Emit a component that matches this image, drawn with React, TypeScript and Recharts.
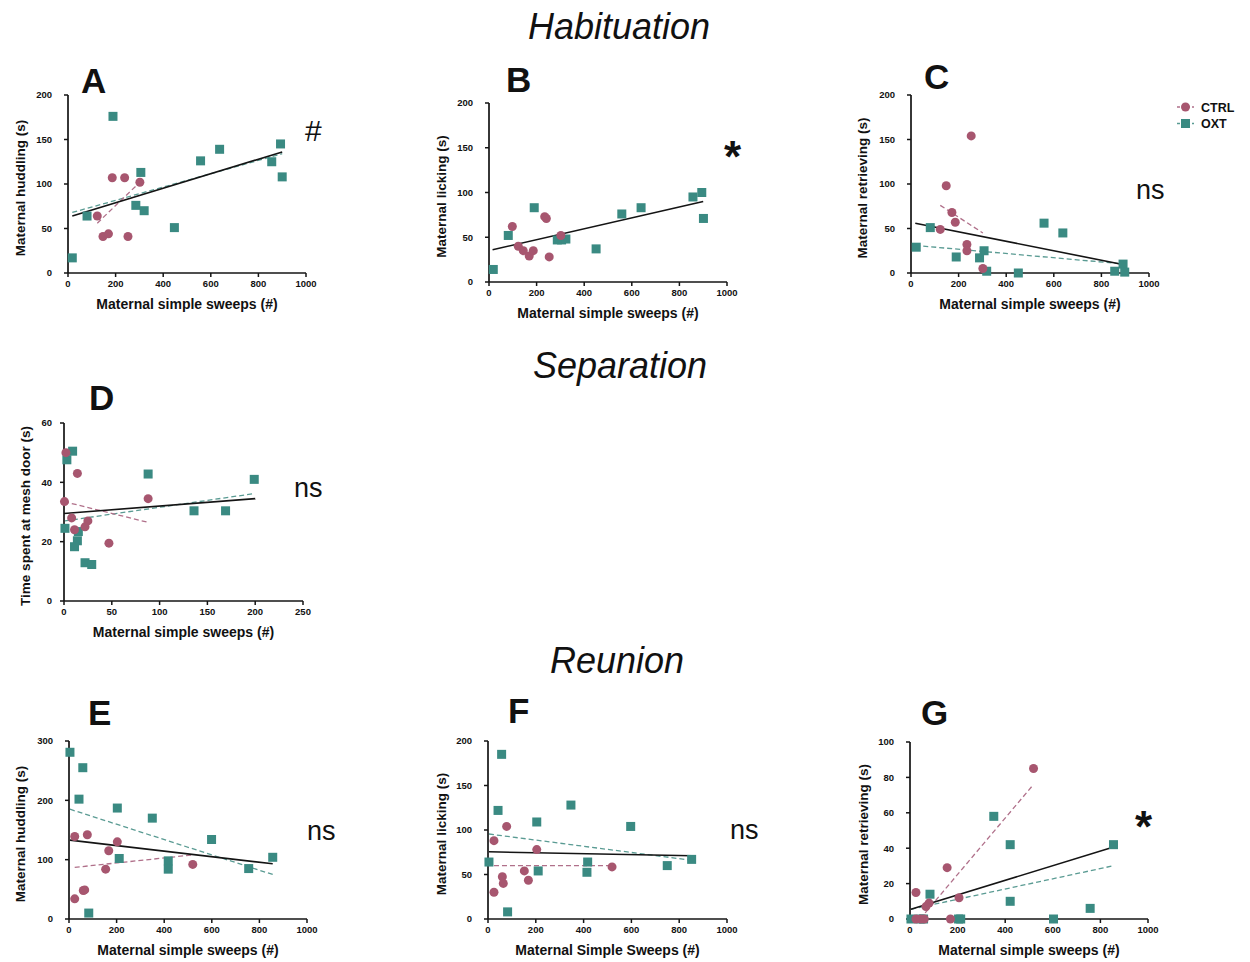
import React from 'react';
import { ScatterChart, Scatter, XAxis, YAxis, ReferenceLine } from 'recharts';

const FONT = "'Liberation Sans', Arial, Helvetica, sans-serif";
const PINK = '#a7566f';
const TEAL = '#3a8a82';
const PINK_LINE = '#b0708a';
const TEAL_LINE = '#5a9b93';
const INK = '#141414';

type Pt = { x: number; y: number };

// ---- tick labels ----
const sweepTicks = [0, 200, 400, 600, 800, 1000];
const sepSweepTicks = [0, 50, 100, 150, 200, 250];
const ticks200 = [0, 50, 100, 150, 200];
const ticks60 = [0, 20, 40, 60];
const ticks300 = [0, 100, 200, 300];
const ticks100 = [0, 20, 40, 60, 80, 100];

// ---- Habituation: A huddling ----
const aCtrl: Pt[] = [{ x: 123, y: 64 }, { x: 147, y: 41 }, { x: 170, y: 44 }, { x: 186, y: 107 }, { x: 238, y: 107 }, { x: 252, y: 41 }, { x: 302, y: 102 }];
const aOxt: Pt[] = [{ x: 18, y: 17 }, { x: 80, y: 64 }, { x: 189, y: 176 }, { x: 285, y: 76 }, { x: 306, y: 113 }, { x: 320, y: 70 }, { x: 447, y: 51 }, { x: 557, y: 126 }, { x: 637, y: 139 }, { x: 856, y: 125 }, { x: 893, y: 145 }, { x: 900, y: 108 }];
const aPooledFit: Pt[] = [{ x: 18, y: 64 }, { x: 900, y: 136 }];
const aOxtFit: Pt[] = [{ x: 18, y: 68 }, { x: 900, y: 134 }];
const aCtrlFit: Pt[] = [{ x: 123, y: 56 }, { x: 302, y: 102 }];

// ---- Habituation: B licking ----
const bCtrl: Pt[] = [{ x: 98, y: 62 }, { x: 123, y: 40 }, { x: 144, y: 35 }, { x: 169, y: 29 }, { x: 186, y: 35 }, { x: 234, y: 73 }, { x: 241, y: 71 }, { x: 253, y: 28 }, { x: 302, y: 52 }];
const bOxt: Pt[] = [{ x: 18, y: 14 }, { x: 81, y: 52 }, { x: 190, y: 83 }, { x: 287, y: 47 }, { x: 305, y: 47 }, { x: 323, y: 48 }, { x: 450, y: 37 }, { x: 558, y: 76 }, { x: 639, y: 83 }, { x: 857, y: 95 }, { x: 894, y: 100 }, { x: 901, y: 71 }];
const bPooledFit: Pt[] = [{ x: 15, y: 36 }, { x: 900, y: 90 }];

// ---- Habituation: C retrieving ----
const cCtrl: Pt[] = [{ x: 123, y: 49 }, { x: 148, y: 98 }, { x: 172, y: 68 }, { x: 186, y: 57 }, { x: 235, y: 32 }, { x: 235, y: 25 }, { x: 253, y: 154 }, { x: 302, y: 5 }];
const cOxt: Pt[] = [{ x: 22, y: 29 }, { x: 81, y: 51 }, { x: 190, y: 18 }, { x: 288, y: 17 }, { x: 307, y: 25 }, { x: 318, y: 2 }, { x: 451, y: 0 }, { x: 559, y: 56 }, { x: 638, y: 45 }, { x: 856, y: 2 }, { x: 891, y: 10 }, { x: 898, y: 1 }];
const cPooledFit: Pt[] = [{ x: 18, y: 56 }, { x: 900, y: 9 }];
const cOxtFit: Pt[] = [{ x: 18, y: 31 }, { x: 900, y: 10 }];
const cCtrlFit: Pt[] = [{ x: 123, y: 76 }, { x: 302, y: 45 }];

// ---- Separation: D mesh door ----
const dCtrl: Pt[] = [{ x: 2, y: 50 }, { x: 14, y: 43 }, { x: 0.5, y: 33.5 }, { x: 88, y: 34.5 }, { x: 8, y: 28 }, { x: 25, y: 27 }, { x: 22, y: 25 }, { x: 11, y: 24 }, { x: 47, y: 19.5 }];
const dOxt: Pt[] = [{ x: 9, y: 50.5 }, { x: 3, y: 47.6 }, { x: 88, y: 42.8 }, { x: 1, y: 24.5 }, { x: 15, y: 23.4 }, { x: 14, y: 20.3 }, { x: 11, y: 18.3 }, { x: 22, y: 12.9 }, { x: 29, y: 12.3 }, { x: 136, y: 30.4 }, { x: 169, y: 30.4 }, { x: 199, y: 41 }];
const dPooledFit: Pt[] = [{ x: 0, y: 29.5 }, { x: 200, y: 34.5 }];
const dOxtFit: Pt[] = [{ x: 1, y: 27 }, { x: 199, y: 36.2 }];
const dCtrlFit: Pt[] = [{ x: 0, y: 33.5 }, { x: 88, y: 26.5 }];

// ---- Reunion: E huddling ----
const eCtrl: Pt[] = [{ x: 24, y: 139 }, { x: 77, y: 142 }, { x: 203, y: 130 }, { x: 167, y: 115 }, { x: 154, y: 84 }, { x: 520, y: 92 }, { x: 60, y: 48 }, { x: 66, y: 49 }, { x: 24, y: 34 }];
const eOxt: Pt[] = [{ x: 4, y: 281 }, { x: 58, y: 255 }, { x: 42, y: 202 }, { x: 203, y: 187 }, { x: 350, y: 170 }, { x: 211, y: 102 }, { x: 417, y: 98 }, { x: 417, y: 84 }, { x: 599, y: 134 }, { x: 83, y: 10 }, { x: 755, y: 85 }, { x: 856, y: 104 }];
const ePooledFit: Pt[] = [{ x: 4, y: 133 }, { x: 856, y: 93 }];
const eOxtFit: Pt[] = [{ x: 4, y: 185 }, { x: 856, y: 75 }];
const eCtrlFit: Pt[] = [{ x: 24, y: 87 }, { x: 520, y: 108 }];

// ---- Reunion: F licking ----
const fCtrl: Pt[] = [{ x: 78, y: 104 }, { x: 25, y: 88 }, { x: 204, y: 78 }, { x: 152, y: 54 }, { x: 169, y: 43.5 }, { x: 519, y: 58.5 }, { x: 60, y: 47.5 }, { x: 64, y: 40 }, { x: 25, y: 30 }];
const fOxt: Pt[] = [{ x: 57, y: 185 }, { x: 42, y: 122 }, { x: 204, y: 109 }, { x: 347, y: 128 }, { x: 597, y: 104 }, { x: 4, y: 64 }, { x: 210, y: 54 }, { x: 417, y: 64 }, { x: 414, y: 52.5 }, { x: 82, y: 8 }, { x: 750, y: 60 }, { x: 852, y: 67 }];
const fPooledFit: Pt[] = [{ x: 4, y: 75.5 }, { x: 852, y: 71 }];
const fOxtFit: Pt[] = [{ x: 4, y: 95.5 }, { x: 852, y: 66 }];
const fCtrlFit: Pt[] = [{ x: 25, y: 60 }, { x: 519, y: 60 }];

// ---- Reunion: G retrieving ----
const gCtrl: Pt[] = [{ x: 25, y: 15 }, { x: 156, y: 29 }, { x: 206, y: 12 }, { x: 80, y: 9 }, { x: 67, y: 7 }, { x: 170, y: 0 }, { x: 519, y: 85 }, { x: 25, y: 0 }, { x: 45, y: 0 }, { x: 60, y: 0 }];
const gOxt: Pt[] = [{ x: 4, y: 0 }, { x: 42, y: 0 }, { x: 57, y: 0 }, { x: 84, y: 14 }, { x: 204, y: 0 }, { x: 213, y: 0 }, { x: 352, y: 58 }, { x: 421, y: 42 }, { x: 421, y: 10 }, { x: 603, y: 0 }, { x: 757, y: 6 }, { x: 855, y: 42 }];
const gPooledFit: Pt[] = [{ x: 4, y: 5.5 }, { x: 852, y: 40.5 }];
const gOxtFit: Pt[] = [{ x: 4, y: 5.5 }, { x: 852, y: 30 }];
const gCtrlFit: Pt[] = [{ x: 42, y: 0 }, { x: 519, y: 76 }];

const CircleDot = (p: any) => <circle cx={p.cx} cy={p.cy} r={4.5} fill={PINK} />;
const SquareDot = (p: any) => <rect x={p.cx - 4.5} y={p.cy - 4.5} width={9} height={9} fill={TEAL} />;

const tickStyle = { fontSize: 9.5, fontWeight: 700, fill: '#111', fontFamily: FONT };

interface PanelProps {
  x0: number; x1: number; yTop: number; yBot: number;
  xTicks: number[]; yTicks: number[];
  ctrl: Pt[]; oxt: Pt[];
  pooled: Pt[]; ctrlFit?: Pt[]; oxtFit?: Pt[];
  yTickMargin?: number;
}

function Panel({ x0, x1, yTop, yBot, xTicks, yTicks, ctrl, oxt, pooled, ctrlFit, oxtFit, yTickMargin = 12 }: PanelProps) {
  const ML = 60, MT = 10, MR = 20, XH = 40;
  const plotW = x1 - x0;
  const plotH = yBot - yTop;
  return (
    <div style={{ position: 'absolute', left: x0 - ML, top: yTop - MT }}>
      <ScatterChart width={ML + plotW + MR} height={MT + plotH + XH} margin={{ top: MT, right: MR, bottom: 0, left: 0 }}>
        <XAxis
          type="number" dataKey="x"
          domain={[xTicks[0], xTicks[xTicks.length - 1]]}
          ticks={xTicks} interval={0} height={XH}
          axisLine={{ stroke: INK, strokeWidth: 1.7 }}
          tickLine={{ stroke: INK, strokeWidth: 1.5 }}
          tickSize={4} tickMargin={3}
          tick={tickStyle}
        />
        <YAxis
          type="number" dataKey="y"
          domain={[yTicks[0], yTicks[yTicks.length - 1]]}
          ticks={yTicks} interval={0} width={ML}
          axisLine={{ stroke: INK, strokeWidth: 1.7 }}
          tickLine={{ stroke: INK, strokeWidth: 1.5 }}
          tickSize={4} tickMargin={yTickMargin}
          tick={tickStyle}
        />
        <Scatter data={oxt} shape={SquareDot} isAnimationActive={false} />
        <Scatter data={ctrl} shape={CircleDot} isAnimationActive={false} />
        {oxtFit && (
          <ReferenceLine segment={oxtFit as any} stroke={TEAL_LINE} strokeWidth={1.3} strokeDasharray="5 3" />
        )}
        {ctrlFit && (
          <ReferenceLine segment={ctrlFit as any} stroke={PINK_LINE} strokeWidth={1.3} strokeDasharray="5 3" />
        )}
        <ReferenceLine segment={pooled as any} stroke={INK} strokeWidth={1.6} />
      </ScatterChart>
    </div>
  );
}

const panels = [
  { id: 'A', x0: 68, x1: 306, yTop: 95, yBot: 273, xTicks: sweepTicks, yTicks: ticks200, ctrl: aCtrl, oxt: aOxt, pooled: aPooledFit, ctrlFit: aCtrlFit, oxtFit: aOxtFit, ylab: 'Maternal huddling (s)', xlab: 'Maternal simple sweeps (#)', yOff: 48 },
  { id: 'B', x0: 489, x1: 727, yTop: 103, yBot: 282, xTicks: sweepTicks, yTicks: ticks200, ctrl: bCtrl, oxt: bOxt, pooled: bPooledFit, ylab: 'Maternal licking (s)', xlab: 'Maternal simple sweeps (#)', yOff: 48 },
  { id: 'C', x0: 911, x1: 1149, yTop: 95, yBot: 273, xTicks: sweepTicks, yTicks: ticks200, ctrl: cCtrl, oxt: cOxt, pooled: cPooledFit, ctrlFit: cCtrlFit, oxtFit: cOxtFit, ylab: 'Maternal retrieving (s)', xlab: 'Maternal simple sweeps (#)', yOff: 49 },
  { id: 'D', x0: 64, x1: 303, yTop: 423, yBot: 601, xTicks: sepSweepTicks, yTicks: ticks60, ctrl: dCtrl, oxt: dOxt, pooled: dPooledFit, ctrlFit: dCtrlFit, oxtFit: dOxtFit, ylab: 'Time spent at mesh door (s)', xlab: 'Maternal simple sweeps (#)', yOff: 39, yTickMargin: 8 },
  { id: 'E', x0: 69, x1: 307, yTop: 741, yBot: 919, xTicks: sweepTicks, yTicks: ticks300, ctrl: eCtrl, oxt: eOxt, pooled: ePooledFit, ctrlFit: eCtrlFit, oxtFit: eOxtFit, ylab: 'Maternal huddling (s)', xlab: 'Maternal simple sweeps (#)', yOff: 49 },
  { id: 'F', x0: 488, x1: 727, yTop: 741, yBot: 919, xTicks: sweepTicks, yTicks: ticks200, ctrl: fCtrl, oxt: fOxt, pooled: fPooledFit, ctrlFit: fCtrlFit, oxtFit: fOxtFit, ylab: 'Maternal licking (s)', xlab: 'Maternal Simple Sweeps (#)', yOff: 47 },
  { id: 'G', x0: 910, x1: 1148, yTop: 742, yBot: 919, xTicks: sweepTicks, yTicks: ticks100, ctrl: gCtrl, oxt: gOxt, pooled: gPooledFit, ctrlFit: gCtrlFit, oxtFit: gOxtFit, ylab: 'Maternal retrieving (s)', xlab: 'Maternal simple sweeps (#)', yOff: 47 },
];

const letterPos: Record<string, [number, number]> = {
  A: [81, 93], B: [506, 92], C: [924, 89], D: [89, 410], E: [88, 725], F: [508, 723], G: [921, 725],
};

const sectionTitles = [
  { text: 'Habituation', x: 619, y: 39 },
  { text: 'Separation', x: 620, y: 378 },
  { text: 'Reunion', x: 617, y: 673 },
];

const markers = [
  { text: '#', x: 305, y: 141, size: 30, weight: 400 },
  { text: '*', x: 724, y: 172, size: 44, weight: 700 },
  { text: 'ns', x: 1136, y: 199, size: 27, weight: 400 },
  { text: 'ns', x: 294, y: 497, size: 27, weight: 400 },
  { text: 'ns', x: 307, y: 840, size: 27, weight: 400 },
  { text: 'ns', x: 730, y: 839, size: 27, weight: 400 },
  { text: '*', x: 1135, y: 842, size: 44, weight: 700 },
];

export default function App() {
  return (
    <div style={{ position: 'absolute', left: 0, top: 0, width: 1250, height: 962, background: '#fff', fontFamily: FONT }}>
      {panels.map((p) => (
        <Panel key={p.id} x0={p.x0} x1={p.x1} yTop={p.yTop} yBot={p.yBot} xTicks={p.xTicks} yTicks={p.yTicks}
          ctrl={p.ctrl} oxt={p.oxt} pooled={p.pooled} ctrlFit={(p as any).ctrlFit} oxtFit={(p as any).oxtFit}
          yTickMargin={(p as any).yTickMargin} />
      ))}
      <svg width={1250} height={962} style={{ position: 'absolute', left: 0, top: 0, pointerEvents: 'none' }} fontFamily={FONT}>
        {sectionTitles.map((t) => (
          <text key={t.text} x={t.x} y={t.y} textAnchor="middle" fontSize={36} fontStyle="italic" fill="#111">{t.text}</text>
        ))}
        {panels.map((p) => {
          const [lx, ly] = letterPos[p.id];
          const cy = (p.yTop + p.yBot) / 2 + 4;
          const cx = p.x0 - p.yOff;
          return (
            <g key={p.id}>
              <text x={lx} y={ly} fontSize={35} fontWeight={700} fill="#111">{p.id}</text>
              <text x={(p.x0 + p.x1) / 2} y={p.yBot + 36} textAnchor="middle" fontSize={14} fontWeight={700} fill="#111">{p.xlab}</text>
              <text x={cx} y={cy} transform={`rotate(-90 ${cx} ${cy})`} textAnchor="middle" dominantBaseline="central" fontSize={13.5} fontWeight={700} fill="#111">{p.ylab}</text>
            </g>
          );
        })}
        {markers.map((m, i) => (
          <text key={i} x={m.x} y={m.y} fontSize={m.size} fontWeight={m.weight} fill="#111">{m.text}</text>
        ))}
        <g>
          <line x1={1177} y1={107} x2={1194} y2={107} stroke={PINK_LINE} strokeWidth={1.3} strokeDasharray="3 2" />
          <circle cx={1185.5} cy={107} r={4.5} fill={PINK} />
          <text x={1201} y={111.5} fontSize={12.5} fontWeight={700} fill="#111">CTRL</text>
          <line x1={1177} y1={123.5} x2={1194} y2={123.5} stroke={TEAL_LINE} strokeWidth={1.3} strokeDasharray="3 2" />
          <rect x={1181} y={119} width={9} height={9} fill={TEAL} />
          <text x={1201} y={128} fontSize={12.5} fontWeight={700} fill="#111">OXT</text>
        </g>
      </svg>
    </div>
  );
}
